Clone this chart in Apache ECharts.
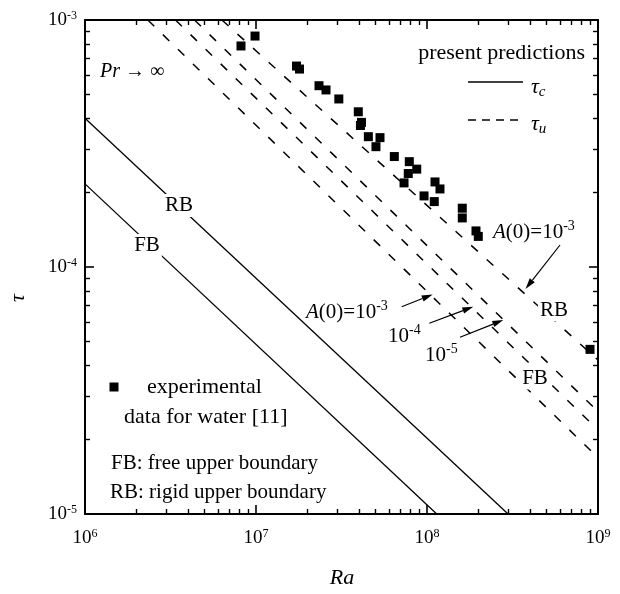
<!DOCTYPE html>
<html><head><meta charset="utf-8">
<script src="https://cdn.jsdelivr.net/npm/echarts@6/dist/echarts.min.js"></script>
<style>html,body{margin:0;padding:0;background:#fff}#c{width:620px;height:594px}</style>
</head><body><div id="c"></div>
<script>
// ---------- data ----------
const xMajorTicks = [1e6, 1e7, 1e8, 1e9];
const yMajorTicks = [1e-5, 1e-4, 1e-3];
const xMinorTicks = [2e6,3e6,4e6,5e6,6e6,7e6,8e6,9e6, 2e7,3e7,4e7,5e7,6e7,7e7,8e7,9e7, 2e8,3e8,4e8,5e8,6e8,7e8,8e8,9e8];
const yMinorTicks = [2e-5,3e-5,4e-5,5e-5,6e-5,7e-5,8e-5,9e-5, 2e-4,3e-4,4e-4,5e-4,6e-4,7e-4,8e-4,9e-4];

// experimental data for water [11]
const expRa  = [8.17e6, 9.87e6, 1.725e7, 1.797e7, 2.336e7, 2.567e7, 3.05e7, 3.965e7, 4.14e7, 4.08e7, 4.54e7, 5.31e7, 5.03e7, 6.44e7, 7.88e7, 8.71e7, 7.77e7, 7.34e7, 1.114e8, 1.191e8, 9.61e7, 1.103e8, 1.608e8, 1.608e8, 1.934e8, 1.995e8, 8.98e8];
const expTau = [7.85e-4, 8.61e-4, 6.51e-4, 6.33e-4, 5.42e-4, 5.21e-4, 4.79e-4, 4.25e-4, 3.85e-4, 3.74e-4, 3.37e-4, 3.34e-4, 3.07e-4, 2.80e-4, 2.67e-4, 2.49e-4, 2.39e-4, 2.19e-4, 2.21e-4, 2.07e-4, 1.94e-4, 1.84e-4, 1.73e-4, 1.58e-4, 1.40e-4, 1.33e-4, 4.64e-5];

// tau_c (solid lines), end points
const tauC_RB_Ra  = [1e6, 2.98e8];
const tauC_RB     = [4.0e-4, 1e-5];
const tauC_FB_Ra  = [1e6, 1.14e8];
const tauC_FB     = [2.17e-4, 1e-5];

// tau_u (dashed lines), end points
const tauU_FB3_Ra = [2.33e6, 1e9];  const tauU_FB3 = [1e-3, 1.69e-5];
const tauU_FB4_Ra = [3.38e6, 1e9];  const tauU_FB4 = [1e-3, 2.19e-5];
const tauU_FB5_Ra = [4.37e6, 1e9];  const tauU_FB5 = [1e-3, 2.60e-5];
const tauU_RB3_Ra = [6.32e6, 1e9];  const tauU_RB3 = [1e-3, 4.20e-5];

// ---------- chart ----------
const FONT = '"Liberation Serif", "Times New Roman", serif';
const pairs = (xs, ys) => xs.map((x, i) => [x, ys[i]]);
const powLabel = v => '{b|10}{s|' + Math.round(Math.log10(v)) + '}';
const labelRich = {
  b: {fontFamily: FONT, fontSize: 19, color: '#000', lineHeight: 20},
  s: {fontFamily: FONT, fontSize: 12, color: '#000', lineHeight: 10, verticalAlign: 'top'}
};
function axisPair(kind, pos, min, max, major, minor, withLabel) {
  const base = {type: 'log', min: min, max: max, position: pos, splitLine: {show: false}};
  const a = Object.assign({}, base, {
    axisLine: {show: true, onZero: false, lineStyle: {color: '#000', width: 2}},
    axisTick: {show: true, inside: true, length: 9, customValues: major, lineStyle: {color: '#000', width: 1.6}},
    axisLabel: withLabel ? {show: true, customValues: major, formatter: powLabel, rich: labelRich, margin: kind === 'x' ? 14 : 8} : {show: false}
  });
  const b = Object.assign({}, base, {
    axisLine: {show: false},
    axisTick: {show: true, inside: true, length: 5, customValues: minor, lineStyle: {color: '#000', width: 1.4}},
    axisLabel: {show: false}
  });
  return [a, b];
}
const xAxes = [].concat(
  axisPair('x', 'bottom', 1e6, 1e9, xMajorTicks, xMinorTicks, true),
  axisPair('x', 'top', 1e6, 1e9, xMajorTicks, xMinorTicks, false));
const yAxes = [].concat(
  axisPair('y', 'left', 1e-5, 1e-3, yMajorTicks, yMinorTicks, true),
  axisPair('y', 'right', 1e-5, 1e-3, yMajorTicks, yMinorTicks, false));

function lineSeries(xs, ys, dashed) {
  return {type: 'line', xAxisIndex: 0, yAxisIndex: 0, data: pairs(xs, ys), showSymbol: false, symbol: 'none',
    silent: true, z: 3,
    lineStyle: {color: '#000', width: dashed ? 1.5 : 1.3, type: dashed ? [9, 12] : 'solid'}};
}

// ---------- annotations ----------
function T(x, y, text, size, opts) {
  opts = opts || {};
  return {type: 'text', z: 100, style: Object.assign({
    text: text, x: x, y: y, font: (opts.italic ? 'italic ' : '') + size + 'px ' + FONT,
    fill: '#000', align: opts.align || 'left', verticalAlign: 'middle',
    rich: {
      n: {fontFamily: FONT, fontSize: size, lineHeight: size + 4},
      i: {fontFamily: FONT, fontSize: size, fontStyle: 'italic', lineHeight: size + 4},
      s: {fontFamily: FONT, fontSize: Math.round(size * 0.68), lineHeight: 10, verticalAlign: 'top'},
      u: {fontFamily: FONT, fontSize: Math.round(size * 0.7), fontStyle: 'italic', lineHeight: 10, verticalAlign: 'bottom'}
    }
  }, opts.bg ? {backgroundColor: '#fff', padding: [1, 2]} : {})};
}
function arrow(x1, y1, x2, y2) {
  const a = Math.atan2(y2 - y1, x2 - x1), L = 11, W = 3.2;
  const bx = x2 - L * Math.cos(a), by = y2 - L * Math.sin(a);
  const nx = -Math.sin(a) * W, ny = Math.cos(a) * W;
  return [
    {type: 'line', z: 100, shape: {x1: x1, y1: y1, x2: bx, y2: by}, style: {stroke: '#000', lineWidth: 1.2}},
    {type: 'polygon', z: 100, shape: {points: [[x2, y2], [bx + nx, by + ny], [bx - nx, by - ny]]}, style: {fill: '#000'}}
  ];
}

const graphics = [
  T(100, 72, '{i|Pr}{n| → ∞}', 20),
  T(585, 53, 'present predictions', 22, {align: 'right'}),
  {type: 'line', z: 100, shape: {x1: 468, y1: 82, x2: 523, y2: 82}, style: {stroke: '#000', lineWidth: 1.3}},
  {type: 'line', z: 100, shape: {x1: 468, y1: 120, x2: 523, y2: 120}, style: {stroke: '#000', lineWidth: 1.5, lineDash: [8, 6]}},
  T(531, 87, '{i|τ}{u|c}', 22),
  T(531, 124, '{i|τ}{u|u}', 22),
  T(179, 205.5, 'RB', 21, {align: 'center', bg: true}),
  T(147, 245.5, 'FB', 21, {align: 'center', bg: true}),
  T(554, 310, 'RB', 21, {align: 'center', bg: true}),
  T(535, 378, 'FB', 21, {align: 'center', bg: true}),
  T(493, 232, '{i|A}{n|(0)=10}{s|-3}', 21),
  T(306, 312, '{i|A}{n|(0)=10}{s|-3}', 21),
  T(388, 336, '{n|10}{s|-4}', 21),
  T(425, 355, '{n|10}{s|-5}', 21),
  {type: 'rect', z: 100, shape: {x: 109.5, y: 382.5, width: 9, height: 9}, style: {fill: '#000'}},
  T(147, 387, 'experimental', 22),
  T(124, 417, 'data for water [11]', 22),
  T(111, 463, 'FB: free upper boundary', 21),
  T(110, 492, 'RB: rigid upper boundary', 21),
  {type: 'text', z: 100, x: 342, y: 578, style: {text: 'Ra', font: 'italic 22px ' + FONT, fill: '#000', align: 'center', verticalAlign: 'middle'}},
  {type: 'text', z: 100, x: 18, y: 298, rotation: Math.PI / 2, style: {text: 'τ', font: 'italic 22px ' + FONT, fill: '#000', align: 'center', verticalAlign: 'middle'}}
].concat(
  arrow(560, 245, 525.5, 289),
  arrow(401.7, 306.7, 432.7, 294.5),
  arrow(429.3, 323.3, 473.3, 306.7),
  arrow(460, 337.3, 503.3, 320)
);

const chart = echarts.init(document.getElementById('c'), null, {renderer: 'canvas'});
chart.setOption({
  animation: false,
  backgroundColor: '#fff',
  grid: {left: 85, right: 22, top: 20, bottom: 80, containLabel: false},
  xAxis: xAxes,
  yAxis: yAxes,
  series: [
    lineSeries(tauC_RB_Ra, tauC_RB, false),
    lineSeries(tauC_FB_Ra, tauC_FB, false),
    lineSeries(tauU_FB3_Ra, tauU_FB3, true),
    lineSeries(tauU_FB4_Ra, tauU_FB4, true),
    lineSeries(tauU_FB5_Ra, tauU_FB5, true),
    lineSeries(tauU_RB3_Ra, tauU_RB3, true),
    {type: 'scatter', xAxisIndex: 0, yAxisIndex: 0, data: pairs(expRa, expTau), symbol: 'rect', symbolSize: 9,
      itemStyle: {color: '#000', opacity: 1}, silent: true, z: 4}
  ],
  graphic: graphics
});
</script></body></html>
